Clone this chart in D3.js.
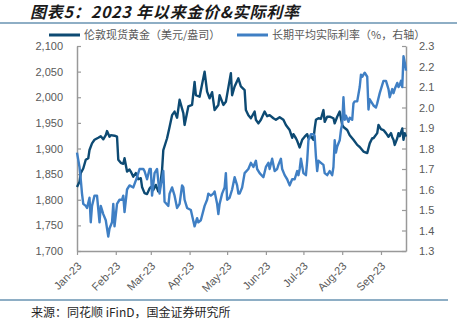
<!DOCTYPE html>
<html>
<head>
<meta charset="utf-8">
<script src="https://cdn.jsdelivr.net/npm/d3@7"></script>
<style>
  html, body { margin: 0; padding: 0; background: #fff; }
  svg { display: block; }
  .axis text { font-family: "Liberation Sans", Arial, sans-serif; font-size: 11px; fill: #595959; }
  .axis path, .axis line { stroke: #999; }
</style>
</head>
<body>
<svg id="chart" width="457" height="325"></svg>
<script>
// London spot gold (USD/oz)
const goldDates = ["2023-01-01","2023-01-03","2023-01-04","2023-01-06","2023-01-08","2023-01-10","2023-01-11","2023-01-13","2023-01-15","2023-01-18","2023-01-20","2023-01-22","2023-01-24","2023-01-25","2023-01-27","2023-01-28","2023-01-31","2023-02-02","2023-02-03","2023-02-05","2023-02-07","2023-02-08","2023-02-10","2023-02-12","2023-02-13","2023-02-15","2023-02-17","2023-02-19","2023-02-21","2023-02-22","2023-02-24","2023-02-26","2023-02-28","2023-03-01","2023-03-03","2023-03-05","2023-03-07","2023-03-08","2023-03-10","2023-03-11","2023-03-14","2023-03-16","2023-03-18","2023-03-20","2023-03-22","2023-03-24","2023-03-27","2023-03-28","2023-03-31","2023-04-03","2023-04-05","2023-04-06","2023-04-09","2023-04-13","2023-04-15","2023-04-17","2023-04-19","2023-04-21","2023-04-24","2023-04-25","2023-04-28","2023-04-30","2023-05-04","2023-05-05","2023-05-07","2023-05-10","2023-05-12","2023-05-15","2023-05-16","2023-05-18","2023-05-20","2023-05-23","2023-05-24","2023-05-26","2023-05-28","2023-05-31","2023-06-02","2023-06-04","2023-06-07","2023-06-09","2023-06-12","2023-06-15","2023-06-17","2023-06-20","2023-06-22","2023-06-23","2023-06-25","2023-06-26","2023-06-28","2023-06-30","2023-07-02","2023-07-04","2023-07-05","2023-07-07","2023-07-09","2023-07-10","2023-07-11","2023-07-13","2023-07-15","2023-07-17","2023-07-18","2023-07-20","2023-07-22","2023-07-25","2023-07-26","2023-07-28","2023-07-30","2023-08-01","2023-08-02","2023-08-05","2023-08-07","2023-08-10","2023-08-13","2023-08-15","2023-08-18","2023-08-21","2023-08-23","2023-08-25","2023-08-26","2023-08-29","2023-08-30","2023-09-01","2023-09-03","2023-09-05","2023-09-07","2023-09-09","2023-09-10","2023-09-11","2023-09-12","2023-09-14","2023-09-15","2023-09-16","2023-09-18","2023-09-19","2023-09-20","2023-09-21"];
const goldValues = [1825,1835,1852,1861,1878,1881,1897,1910,1917,1921,1924,1918,1926,1934,1923,1926,1925,1923,1878,1872,1870,1881,1855,1859,1855,1845,1852,1840,1842,1825,1813,1811,1822,1825,1819,1829,1816,1819,1858,1897,1920,1942,1965,1972,1960,1995,1969,1946,1982,1985,2030,2004,2001,2050,2011,1998,2010,1975,1985,2004,1985,1991,2047,2004,2021,2037,2021,2014,1975,1965,1959,1972,1956,1949,1956,1972,1963,1965,1959,1956,1961,1956,1946,1936,1921,1928,1920,1915,1902,1917,1923,1928,1920,1924,1917,1939,1956,1959,1958,1975,1952,1962,1962,1959,1949,1962,1972,1946,1942,1936,1926,1917,1907,1903,1894,1891,1910,1920,1920,1930,1946,1938,1936,1930,1923,1930,1922,1917,1907,1920,1930,1924,1939,1917,1930,1923];

// Long-term average real rate (%), right axis
const rateDates = ["2023-01-01","2023-01-03","2023-01-04","2023-01-05","2023-01-06","2023-01-08","2023-01-09","2023-01-11","2023-01-12","2023-01-13","2023-01-15","2023-01-17","2023-01-19","2023-01-20","2023-01-22","2023-01-24","2023-01-26","2023-01-27","2023-01-29","2023-01-30","2023-01-31","2023-02-02","2023-02-04","2023-02-06","2023-02-07","2023-02-08","2023-02-10","2023-02-12","2023-02-15","2023-02-18","2023-02-20","2023-02-23","2023-02-24","2023-02-26","2023-02-28","2023-03-01","2023-03-02","2023-03-04","2023-03-06","2023-03-08","2023-03-09","2023-03-11","2023-03-12","2023-03-15","2023-03-16","2023-03-18","2023-03-20","2023-03-22","2023-03-24","2023-03-26","2023-03-27","2023-03-28","2023-03-30","2023-04-02","2023-04-05","2023-04-07","2023-04-08","2023-04-10","2023-04-13","2023-04-15","2023-04-16","2023-04-18","2023-04-20","2023-04-21","2023-04-23","2023-04-24","2023-04-25","2023-04-27","2023-04-29","2023-04-30","2023-05-01","2023-05-03","2023-05-05","2023-05-07","2023-05-09","2023-05-10","2023-05-11","2023-05-13","2023-05-15","2023-05-18","2023-05-20","2023-05-22","2023-05-24","2023-05-25","2023-05-27","2023-05-30","2023-06-01","2023-06-03","2023-06-04","2023-06-06","2023-06-08","2023-06-10","2023-06-11","2023-06-13","2023-06-14","2023-06-16","2023-06-18","2023-06-20","2023-06-22","2023-06-24","2023-06-26","2023-06-27","2023-06-28","2023-06-29","2023-07-01","2023-07-03","2023-07-04","2023-07-05","2023-07-07","2023-07-09","2023-07-10","2023-07-11","2023-07-12","2023-07-13","2023-07-15","2023-07-17","2023-07-18","2023-07-20","2023-07-22","2023-07-24","2023-07-25","2023-07-26","2023-07-27","2023-07-28","2023-07-30","2023-07-31","2023-08-01","2023-08-02","2023-08-03","2023-08-04","2023-08-06","2023-08-07","2023-08-09","2023-08-10","2023-08-11","2023-08-13","2023-08-15","2023-08-16","2023-08-17","2023-08-19","2023-08-21","2023-08-22","2023-08-23","2023-08-24","2023-08-26","2023-08-28","2023-08-29","2023-08-31","2023-09-02","2023-09-03","2023-09-05","2023-09-07","2023-09-08","2023-09-10","2023-09-11","2023-09-12","2023-09-14","2023-09-15","2023-09-16","2023-09-17","2023-09-18","2023-09-19","2023-09-20","2023-09-21"];
const rateValues = [1.78,1.71,1.65,1.58,1.53,1.52,1.51,1.56,1.44,1.52,1.57,1.57,1.44,1.52,1.48,1.45,1.37,1.41,1.44,1.53,1.42,1.53,1.55,1.55,1.57,1.49,1.60,1.62,1.61,1.66,1.70,1.70,1.69,1.65,1.70,1.70,1.57,1.68,1.70,1.58,1.62,1.69,1.54,1.52,1.58,1.61,1.57,1.51,1.53,1.62,1.61,1.55,1.51,1.50,1.42,1.46,1.44,1.45,1.52,1.55,1.58,1.57,1.58,1.59,1.53,1.48,1.53,1.58,1.61,1.68,1.55,1.56,1.60,1.66,1.62,1.58,1.58,1.61,1.68,1.70,1.73,1.71,1.74,1.70,1.68,1.66,1.71,1.73,1.70,1.75,1.69,1.70,1.72,1.75,1.70,1.67,1.65,1.62,1.65,1.65,1.69,1.67,1.70,1.75,1.68,1.67,1.74,1.84,1.87,1.87,1.86,1.76,1.69,1.74,1.73,1.72,1.68,1.67,1.69,1.67,1.71,1.84,1.78,1.81,1.84,1.89,1.92,2.05,1.94,1.96,1.93,1.95,1.94,2.02,2.03,2.03,2.10,2.16,2.15,2.17,2.15,1.99,2.04,2.03,2.01,2.00,2.02,2.07,2.11,2.13,2.13,2.09,2.05,2.09,2.07,2.09,2.12,2.10,2.11,2.13,2.10,2.25,2.22,2.18];

// Axis settings
const leftTicks = [1700, 1750, 1800, 1850, 1900, 1950, 2000, 2050, 2100];
const rightTicks = [1.3, 1.4, 1.5, 1.6, 1.7, 1.8, 1.9, 2.0, 2.1, 2.2, 2.3];
const dateRange = ["2023-01-01", "2023-09-21"];

const titleText = "图表5：2023 年以来金价&实际利率";
const legendLabels = ["伦敦现货黄金（美元/盎司）", "长期平均实际利率（%，右轴）"];
const sourceText = "来源：同花顺 iFinD，国金证券研究所";

const colors = { gold: "#0d4a73", rate: "#3f7fc4", rule: "#1f5f8b" };

const parse = d3.timeParse("%Y-%m-%d");
const gold = goldDates.map((d, i) => ({ date: parse(d), value: goldValues[i] }));
const rate = rateDates.map((d, i) => ({ date: parse(d), value: rateValues[i] }));

const svg = d3.select("#chart");
svg.append("rect").attr("width", 457).attr("height", 325).attr("fill", "#fff");

const margin = { left: 77, right: 51, top: 46, bottom: 74 };
const W = 457, H = 325;
const x = d3.scaleTime().domain(dateRange.map(parse)).range([margin.left, W - margin.right]);
const yL = d3.scaleLinear().domain([1700, 2100]).range([H - margin.bottom, margin.top]);
const yR = d3.scaleLinear().domain([1.3, 2.3]).range([H - margin.bottom, margin.top]);

// Title and rules
svg.append("text")
  .attr("x", 30).attr("y", 18)
  .attr("font-family", "'Noto Sans CJK SC', sans-serif")
  .attr("font-size", 16).attr("font-weight", "bold").attr("font-style", "italic")
  .attr("letter-spacing", 0.8)
  .attr("fill", "#1a1a1a")
  .text(titleText);
svg.append("line").attr("x1", 0).attr("x2", 457).attr("y1", 23).attr("y2", 23)
  .attr("stroke", colors.rule).attr("stroke-width", 1.2);
svg.append("line").attr("x1", 0).attr("x2", 448).attr("y1", 300).attr("y2", 300)
  .attr("stroke", colors.rule).attr("stroke-width", 1.2);
svg.append("text")
  .attr("x", 31).attr("y", 317)
  .attr("font-family", "'Noto Sans CJK SC', sans-serif")
  .attr("font-size", 12).attr("fill", "#262626")
  .text(sourceText);

// Axes
const gL = svg.append("g").attr("class", "axis")
  .attr("transform", `translate(${margin.left},0)`)
  .call(d3.axisLeft(yL).tickValues(leftTicks).tickFormat(d3.format(","))
    .tickSizeInner(-4).tickSizeOuter(0).tickPadding(14));
const gR = svg.append("g").attr("class", "axis")
  .attr("transform", `translate(${W - margin.right},0)`)
  .call(d3.axisRight(yR).tickValues(rightTicks).tickFormat(d3.format(".1f"))
    .tickSizeInner(-4).tickSizeOuter(0).tickPadding(13));
const gB = svg.append("g").attr("class", "axis")
  .attr("transform", `translate(0,${H - margin.bottom})`)
  .call(d3.axisBottom(x).ticks(d3.timeMonth.every(1)).tickFormat(d3.timeFormat("%b-%y"))
    .tickSizeInner(4).tickSizeOuter(0));
gB.selectAll(".tick text")
  .attr("text-anchor", "end")
  .attr("dy", "0.35em")
  .attr("transform", "translate(2,13) rotate(-45)")
  .attr("y", 0).attr("x", 0);
[gL, gR, gB].forEach(g => {
  g.select(".domain").attr("stroke", "#999").attr("stroke-width", 1.5);
  g.selectAll(".tick line").attr("stroke", "#999").attr("stroke-width", 1.2);
});

// Series
const lineL = d3.line().x(d => x(d.date)).y(d => yL(d.value));
const lineR = d3.line().x(d => x(d.date)).y(d => yR(d.value));
svg.append("path").datum(gold).attr("d", lineL)
  .attr("fill", "none").attr("stroke", colors.gold).attr("stroke-width", 2.4)
  .attr("stroke-linejoin", "round");
svg.append("path").datum(rate).attr("d", lineR)
  .attr("fill", "none").attr("stroke", colors.rate).attr("stroke-width", 2.4)
  .attr("stroke-linejoin", "round");

// Legend
const legend = [
  { label: legendLabels[0], color: colors.gold, x: 49 },
  { label: legendLabels[1], color: colors.rate, x: 237 }
];
const lg = svg.append("g");
legend.forEach(l => {
  lg.append("line").attr("x1", l.x).attr("x2", l.x + 31).attr("y1", 35).attr("y2", 35)
    .attr("stroke", l.color).attr("stroke-width", 3);
  lg.append("text").attr("x", l.x + 35).attr("y", 39)
    .attr("font-family", "'Noto Sans CJK SC', sans-serif")
    .attr("font-size", 11).attr("fill", "#595959")
    .text(l.label);
});
</script>
</body>
</html>
